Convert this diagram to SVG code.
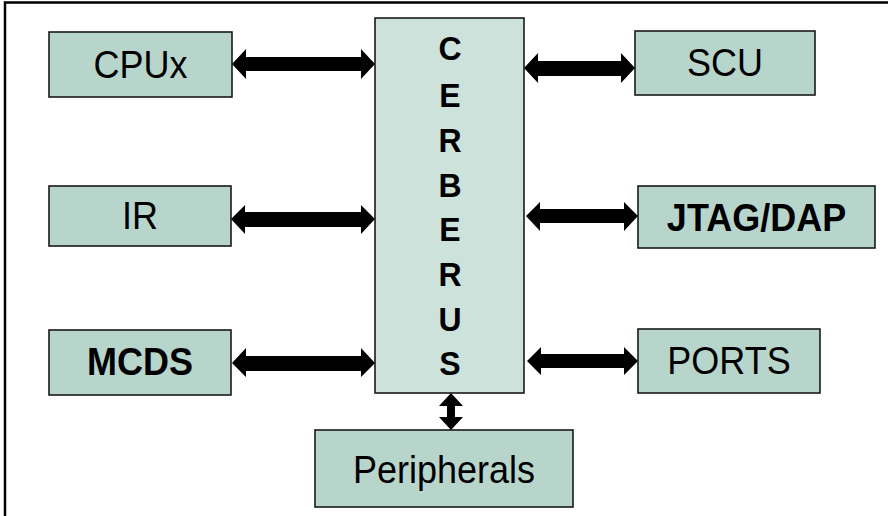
<svg xmlns="http://www.w3.org/2000/svg" width="888" height="516" viewBox="0 0 888 516">
<style>
.box{fill:#b8d5cc;stroke:#1a1a1a;stroke-width:1.6}
.core{fill:#cde2db;stroke:#1a1a1a;stroke-width:1.6}
.t{font-family:"Liberation Sans",Arial,sans-serif;font-size:36px;fill:#000;text-anchor:middle}
.b{font-weight:bold}
.l{font-family:"Liberation Sans",Arial,sans-serif;font-size:32px;font-weight:bold;fill:#000;text-anchor:middle}
.arr{fill:#000}
.frame{stroke:#000;stroke-width:2.5;fill:none}
</style>
<g id="frame">
<path class="frame" d="M5,516 V2.5 H888"/>
</g>
<g id="cpux"><rect class="box" x="49" y="32" width="183" height="65"/><text class="t" transform="translate(140.5,78) scale(1,1.06)">CPUx</text></g>
<g id="ir"><rect class="box" x="49" y="186" width="182" height="60"/><text class="t" transform="translate(140,229) scale(1,1.06)">IR</text></g>
<g id="mcds"><rect class="box" x="49" y="330" width="182" height="65"/><text class="t b" transform="translate(140,375) scale(1,1.06)">MCDS</text></g>
<g id="scu"><rect class="box" x="635" y="31" width="180" height="64"/><text class="t" transform="translate(725,76) scale(1,1.06)">SCU</text></g>
<g id="jtag"><rect class="box" x="638" y="186" width="237" height="62"/><text class="t b" transform="translate(756.5,231) scale(1,1.06)">JTAG/DAP</text></g>
<g id="ports"><rect class="box" x="638" y="329" width="182" height="64"/><text class="t" transform="translate(729,374) scale(1,1.06)">PORTS</text></g>
<g id="peripherals"><rect class="box" x="315" y="430" width="258" height="77"/><text class="t" transform="translate(444,483) scale(1,1.06)">Peripherals</text></g>
<g id="cerberus"><rect class="core" x="375" y="18" width="149" height="375"/>
<text class="l" transform="translate(450,60) scale(1,1.06)">C</text>
<text class="l" transform="translate(450,107) scale(1,1.06)">E</text>
<text class="l" transform="translate(450,152) scale(1,1.06)">R</text>
<text class="l" transform="translate(450,197) scale(1,1.06)">B</text>
<text class="l" transform="translate(450,241) scale(1,1.06)">E</text>
<text class="l" transform="translate(450,286) scale(1,1.06)">R</text>
<text class="l" transform="translate(450,331) scale(1,1.06)">U</text>
<text class="l" transform="translate(450,375) scale(1,1.06)">S</text>
</g>
<g id="connectors">
<polygon class="arr" points="232,64 246,49 246,57 361,57 361,49 375,64 361,79 361,71 246,71 246,79"/>
<polygon class="arr" points="231,219 245,205 245,212 361,212 361,205 375,219 361,234 361,227 245,227 245,234"/>
<polygon class="arr" points="232,363 246,348 246,356 361,356 361,348 375,363 361,377 361,371 246,371 246,377"/>
<polygon class="arr" points="524,68 538,53 538,61 621,61 621,53 635,68 621,83 621,76 538,76 538,83"/>
<polygon class="arr" points="526,216 540,202 540,209 624,209 624,202 638,216 624,231 624,223 540,223 540,231"/>
<polygon class="arr" points="527,361 541,347 541,354 624,354 624,347 638,361 624,375 624,368 541,368 541,375"/>
<polygon class="arr" points="451,393 463,406 455,406 455,417 463,417 451,430 439,417 447,417 447,406 439,406"/>
</g>
</svg>
